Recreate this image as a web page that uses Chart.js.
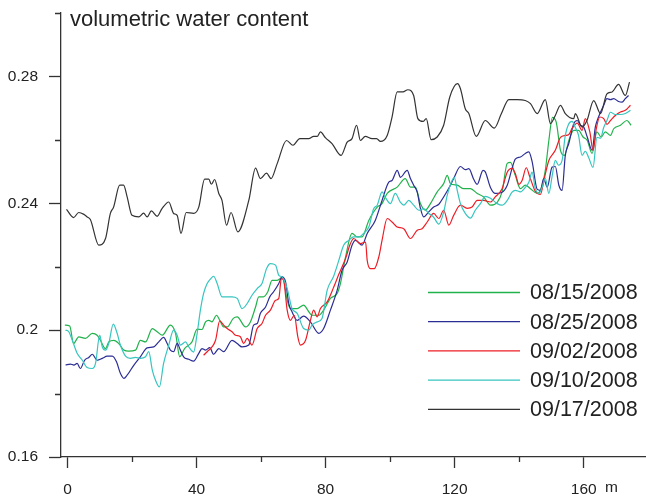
<!DOCTYPE html>
<html>
<head>
<meta charset="utf-8">
<script src="https://cdn.jsdelivr.net/npm/chart.js@4.4.1/dist/chart.umd.min.js"></script>
<style>
  html, body { margin: 0; padding: 0; background: #fff; }
  canvas { display: block; }
</style>
</head>
<body>
<canvas id="chart" width="646" height="496"></canvas>
<script>
// distance along the transect (m) and volumetric water content, one pair of arrays per date
const dist0815 = [-0.8,0.7,1.9,3.5,5.6,7.7,9.2,10.2,11.8,12.8,14.4,15.9,17.5,19.0,21.1,22.6,24.2,26.3,27.8,29.4,31.9,33.5,34.8,36.3,38.6,40.2,41.7,42.8,43.8,44.8,46.2,47.2,48.4,49.5,51.4,52.6,55.2,56.7,58.3,59.3,60.7,62.1,63.4,65.0,66.7,68.1,69.1,71.2,73.2,74.8,75.8,77.9,79.4,81.5,83.6,84.6,86.2,88.2,89.8,91.3,93.4,96.0,97.5,99.1,102.2,104.7,106.3,107.8,109.4,110.9,112.5,114.6,116.6,117.7,118.7,120.8,122.8,124.9,127.0,129.0,131.1,133.2,134.7,136.3,137.3,138.8,140.4,141.9,143.5,145.6,146.6,148.1,149.2,150.3,151.5,152.8,154.0,155.4,156.9,158.4,159.8,161.1,162.6,164.1,165.4,166.7,168.3,169.3,171.4,173.4,174.7]
const vwc0815 = [0.2016,0.2013,0.1958,0.1979,0.1974,0.1990,0.1984,0.1968,0.1942,0.1963,0.1968,0.1958,0.1937,0.1934,0.1937,0.1968,0.1963,0.2005,0.1995,0.1984,0.2016,0.1990,0.1916,0.1942,0.1963,0.2003,0.2002,0.2026,0.2031,0.2026,0.2047,0.2031,0.2010,0.2010,0.2037,0.2042,0.2010,0.2026,0.2073,0.2105,0.2105,0.2121,0.2157,0.2157,0.2167,0.2094,0.2068,0.2068,0.2079,0.2058,0.2047,0.2047,0.2063,0.2100,0.2116,0.2147,0.2231,0.2305,0.2294,0.2294,0.2346,0.2388,0.2399,0.2431,0.2451,0.2478,0.2451,0.2451,0.2399,0.2378,0.2399,0.2436,0.2462,0.2488,0.2462,0.2457,0.2446,0.2446,0.2431,0.2420,0.2394,0.2403,0.2436,0.2526,0.2529,0.2488,0.2446,0.2457,0.2446,0.2431,0.2441,0.2504,0.2598,0.2671,0.2655,0.2567,0.2551,0.2598,0.2630,0.2630,0.2609,0.2598,0.2557,0.2625,0.2609,0.2625,0.2614,0.2635,0.2646,0.2661,0.2646]

const dist0825 = [-0.6,0.9,2.0,3.0,4.0,5.3,6.6,7.7,9.2,10.8,12.3,13.9,15.2,16.4,17.5,18.5,20.6,22.6,24.7,26.7,28.3,29.8,30.9,31.9,32.9,34.0,35.0,36.0,37.6,39.1,40.7,41.7,42.8,44.1,45.3,46.9,48.4,51.0,52.6,54.1,56.2,57.7,58.8,59.8,61.4,62.7,63.9,65.5,66.5,67.6,68.6,69.6,71.2,73.2,75.3,77.9,79.4,81.5,83.6,85.1,86.7,88.2,89.3,91.3,92.9,95.4,97.5,99.6,100.6,102.2,103.2,105.3,106.3,107.3,108.4,109.4,110.4,111.9,113.5,115.1,116.6,118.7,119.7,121.8,123.3,124.4,125.9,127.0,128.8,129.5,131.1,132.6,134.7,136.3,137.8,138.8,140.4,141.9,143.0,144.0,145.6,146.6,147.6,148.7,150.2,151.2,152.3,153.3,154.3,155.4,156.9,158.0,159.0,160.0,161.1,162.6,163.6,164.6,166.2,167.2,168.3,169.3,170.8,171.9,172.9,173.9]
const vwc0825 = [0.1890,0.1893,0.1890,0.1895,0.1879,0.1905,0.1914,0.1924,0.1905,0.1911,0.1918,0.1918,0.1900,0.1864,0.1848,0.1858,0.1890,0.1916,0.1944,0.1947,0.1963,0.1977,0.1958,0.1937,0.1932,0.1958,0.1937,0.1916,0.1908,0.1902,0.1927,0.1942,0.1937,0.1945,0.1924,0.1942,0.1932,0.1968,0.1958,0.1947,0.1953,0.2016,0.2021,0.2053,0.2073,0.2105,0.2121,0.2147,0.2168,0.2152,0.2084,0.2058,0.2031,0.2044,0.2026,0.1990,0.2005,0.2063,0.2126,0.2189,0.2215,0.2268,0.2283,0.2268,0.2305,0.2346,0.2409,0.2467,0.2472,0.2504,0.2482,0.2504,0.2478,0.2457,0.2435,0.2384,0.2357,0.2372,0.2388,0.2397,0.2420,0.2457,0.2478,0.2516,0.2506,0.2509,0.2476,0.2460,0.2504,0.2499,0.2450,0.2431,0.2435,0.2457,0.2510,0.2539,0.2546,0.2557,0.2562,0.2532,0.2444,0.2441,0.2478,0.2451,0.2514,0.2516,0.2457,0.2441,0.2551,0.2589,0.2651,0.2661,0.2646,0.2640,0.2609,0.2567,0.2640,0.2672,0.2709,0.2730,0.2727,0.2730,0.2721,0.2719,0.2730,0.2740]

const dist0902 = [42.2,43.3,44.8,45.9,47.2,48.4,49.5,51.0,52.1,53.6,54.6,55.7,57.2,58.8,60.3,61.4,62.9,64.5,65.5,66.3,67.0,68.1,69.1,70.3,71.4,72.2,73.8,75.3,76.3,77.4,78.4,80.5,82.5,84.1,86.2,87.7,88.7,90.8,92.4,92.9,93.9,95.1,96.5,97.5,99.1,100.6,102.2,104.2,106.3,108.4,109.9,111.5,113.5,115.1,116.6,118.2,119.7,121.8,123.9,125.4,127.0,129.0,131.1,132.6,134.7,136.3,137.8,138.8,139.9,140.9,142.2,143.3,145.0,146.6,147.8,149.2,151.2,152.8,154.3,155.4,156.4,158.0,159.5,160.5,161.9,162.9,163.9,165.0,166.2,167.2,168.3,169.8,171.4,172.9,174.5]
const vwc0902 = [0.1921,0.1932,0.1947,0.1968,0.2029,0.2016,0.2005,0.1995,0.1984,0.1979,0.1958,0.1974,0.1953,0.2005,0.2021,0.2047,0.2063,0.2094,0.2100,0.2163,0.2157,0.2063,0.2031,0.2047,0.1979,0.1953,0.1968,0.2031,0.2063,0.2042,0.2068,0.2089,0.2135,0.2176,0.2226,0.2273,0.2289,0.2273,0.2278,0.2220,0.2194,0.2194,0.2231,0.2283,0.2352,0.2341,0.2325,0.2320,0.2289,0.2315,0.2320,0.2341,0.2368,0.2352,0.2378,0.2331,0.2362,0.2394,0.2384,0.2388,0.2409,0.2409,0.2404,0.2420,0.2446,0.2498,0.2510,0.2494,0.2460,0.2472,0.2512,0.2483,0.2438,0.2428,0.2479,0.2535,0.2567,0.2608,0.2614,0.2617,0.2636,0.2653,0.2630,0.2667,0.2625,0.2567,0.2635,0.2672,0.2667,0.2649,0.2661,0.2677,0.2688,0.2693,0.2709]

const dist0910 = [-0.6,0.4,1.5,3.0,4.6,6.1,7.7,8.7,10.0,10.8,11.8,12.8,14.2,15.4,16.4,18.0,19.5,21.1,22.6,24.2,25.2,26.3,27.3,28.5,29.8,31.4,32.9,34.0,35.0,36.6,37.6,39.1,40.2,41.2,42.2,43.3,44.3,45.3,46.4,47.9,49.5,51.0,52.6,54.1,55.7,57.2,58.8,60.3,61.7,62.9,64.5,65.5,66.5,68.1,69.6,71.2,73.2,74.8,75.8,77.4,78.9,80.5,82.5,84.1,85.6,87.2,88.7,90.3,91.8,93.4,94.9,96.0,97.5,98.5,100.1,101.6,103.2,104.2,105.8,107.3,108.9,110.4,112.0,113.5,115.1,116.6,117.7,119.2,119.9,120.8,121.8,123.3,124.9,126.4,128.0,129.5,131.1,133.2,134.7,136.3,137.8,138.8,140.4,141.9,143.0,144.0,145.0,146.1,147.1,148.1,149.2,150.2,151.2,152.2,153.3,154.3,155.3,156.4,157.4,158.4,159.5,160.5,161.5,162.9,164.1,165.2,166.2,167.2,168.3,169.8,171.4,172.9,174.5]
const vwc0910 = [0.2000,0.1995,0.1968,0.1927,0.1905,0.1882,0.1879,0.1895,0.1984,0.1947,0.1937,0.1958,0.2019,0.1990,0.1953,0.1918,0.1911,0.1914,0.1911,0.1916,0.1932,0.1874,0.1842,0.1821,0.1895,0.1953,0.2000,0.1984,0.1953,0.1963,0.1947,0.1931,0.1990,0.2063,0.2116,0.2147,0.2161,0.2170,0.2147,0.2105,0.2105,0.2105,0.2100,0.2068,0.2084,0.2110,0.2131,0.2147,0.2194,0.2210,0.2205,0.2173,0.2168,0.2131,0.2068,0.2053,0.2005,0.2000,0.2016,0.2026,0.2037,0.2126,0.2170,0.2220,0.2268,0.2283,0.2294,0.2294,0.2305,0.2325,0.2383,0.2394,0.2436,0.2419,0.2399,0.2431,0.2403,0.2394,0.2409,0.2394,0.2378,0.2383,0.2368,0.2356,0.2334,0.2372,0.2425,0.2472,0.2482,0.2441,0.2399,0.2368,0.2353,0.2378,0.2399,0.2422,0.2416,0.2399,0.2394,0.2409,0.2435,0.2441,0.2436,0.2450,0.2466,0.2498,0.2447,0.2431,0.2450,0.2479,0.2431,0.2485,0.2535,0.2520,0.2535,0.2614,0.2649,0.2658,0.2639,0.2614,0.2551,0.2564,0.2545,0.2513,0.2608,0.2605,0.2639,0.2661,0.2687,0.2680,0.2680,0.2683,0.2693]

const dist0917 = [-0.3,1.9,3.5,5.1,6.1,7.1,9.7,11.8,13.3,14.3,16.2,17.4,18.5,20.0,22.1,23.6,24.7,26.0,27.8,29.3,31.4,32.9,34.0,35.2,36.8,39.1,40.7,42.5,43.8,44.6,45.6,46.9,47.9,49.3,50.7,52.8,56.2,58.3,59.8,61.7,63.1,65.0,67.9,69.9,72.0,74.8,76.3,77.4,78.4,80.0,82.0,84.8,86.7,88.2,89.6,90.8,92.3,94.4,95.8,97.0,99.1,100.6,102.2,104.0,105.5,107.3,108.6,110.2,111.2,112.7,114.6,116.6,118.5,120.9,121.8,123.3,124.4,126.7,129.5,132.3,134.5,136.8,139.4,141.9,143.5,145.6,148.1,149.7,151.2,152.8,154.3,156.9,157.4,159.5,161.0,163.1,165.2,167.2,168.8,170.8,172.9,174.2]
const vwc0917 = [0.2381,0.2355,0.2371,0.2365,0.2357,0.2349,0.2268,0.2289,0.2368,0.2388,0.2457,0.2457,0.2420,0.2362,0.2357,0.2369,0.2357,0.2376,0.2359,0.2383,0.2404,0.2368,0.2362,0.2305,0.2371,0.2368,0.2388,0.2476,0.2476,0.2460,0.2475,0.2431,0.2409,0.2331,0.2371,0.2310,0.2409,0.2511,0.2478,0.2495,0.2478,0.2525,0.2598,0.2583,0.2604,0.2604,0.2611,0.2611,0.2625,0.2606,0.2588,0.2551,0.2593,0.2604,0.2646,0.2598,0.2611,0.2604,0.2604,0.2595,0.2614,0.2672,0.2751,0.2751,0.2758,0.2740,0.2667,0.2658,0.2667,0.2601,0.2609,0.2646,0.2735,0.2777,0.2761,0.2698,0.2683,0.2611,0.2661,0.2637,0.2683,0.2727,0.2727,0.2724,0.2714,0.2683,0.2727,0.2651,0.2677,0.2709,0.2683,0.2667,0.2683,0.2640,0.2661,0.2724,0.2683,0.2745,0.2751,0.2775,0.2740,0.2782]

const seriesLabels = ["08/15/2008", "08/25/2008", "09/02/2008", "09/10/2008", "09/17/2008"]
const seriesColors = ["#22b24c", "#2b2d94", "#ee1d25", "#36c5bf", "#333333"]

const xTicks = [0, 40, 80, 120, 160]
const xMinorTicks = [20, 60, 100, 140]
const yTicks = [0.16, 0.2, 0.24, 0.28]
const yMinorTicks = [0.18, 0.22, 0.26, 0.3]
const yTitle = "volumetric water content"
const xUnit = "m"

const FONT = "'Liberation Sans', Arial, Helvetica, sans-serif"
const INK = "#222222"

function pairs(xs, ys) {
  const n = Math.min(xs.length, ys.length)
  const out = []
  for (let i = 0; i < n; i++) out.push({ x: xs[i], y: ys[i] })
  return out
}

const seriesData = [
  pairs(dist0815, vwc0815),
  pairs(dist0825, vwc0825),
  pairs(dist0902, vwc0902),
  pairs(dist0910, vwc0910),
  pairs(dist0917, vwc0917),
]

// minor ticks, title, unit and the in-plot legend
const extras = {
  id: "extras",
  afterDraw(chart) {
    const { ctx, chartArea, scales } = chart
    ctx.save()
    ctx.strokeStyle = "#333"
    ctx.lineWidth = 1.3
    ctx.beginPath()
    xMinorTicks.forEach((v) => {
      const px = Math.round(scales.x.getPixelForValue(v)) + 0.5
      ctx.moveTo(px, chartArea.bottom)
      ctx.lineTo(px, chartArea.bottom + 5)
    })
    yMinorTicks.forEach((v) => {
      const py = Math.round(scales.y.getPixelForValue(v)) + 0.5
      ctx.moveTo(chartArea.left, py)
      ctx.lineTo(chartArea.left - 6, py)
    })
    ctx.stroke()

    ctx.fillStyle = INK
    ctx.font = "22px " + FONT
    ctx.textAlign = "left"
    ctx.textBaseline = "alphabetic"
    ctx.fillText(yTitle, 70, 26)

    ctx.font = "15.5px " + FONT
    ctx.textBaseline = "middle"
    ctx.fillText(xUnit, 605, 488)

    // legend
    ctx.font = "21.5px " + FONT
    chart.data.datasets.forEach((ds, i) => {
      const ly = 292.5 + i * 29.2
      ctx.strokeStyle = ds.borderColor
      ctx.lineWidth = 1.3
      ctx.beginPath()
      ctx.moveTo(428, ly)
      ctx.lineTo(520, ly)
      ctx.stroke()
      ctx.fillStyle = INK
      ctx.fillText(ds.label, 530, ly + 1)
    })
    ctx.restore()
  },
}

new Chart(document.getElementById("chart"), {
  type: "line",
  data: {
    datasets: seriesData.map((d, i) => ({
      label: seriesLabels[i],
      data: d,
      borderColor: seriesColors[i],
      borderWidth: 1.2,
      pointRadius: 0,
      fill: false,
      cubicInterpolationMode: "monotone",
      order: 4 - i,
    })),
  },
  options: {
    responsive: false,
    animation: false,
    devicePixelRatio: 1,
    layout: { padding: { left: 0, right: 1, top: 13, bottom: 0 } },
    plugins: {
      legend: { display: false },
      tooltip: { enabled: false },
    },
    scales: {
      x: {
        type: "linear",
        min: -2,
        max: 179,
        afterBuildTicks: (scale) => {
          scale.ticks = xTicks.map((v) => ({ value: v }))
        },
        afterFit: (scale) => {
          scale.height = 39
          scale.paddingLeft = 0
          scale.paddingRight = 0
        },
        border: { display: true, color: "#333", width: 1.3 },
        grid: { drawOnChartArea: false, drawTicks: true, tickLength: 11, tickColor: "#333", tickWidth: 1.3 },
        ticks: {
          autoSkip: false,
          maxRotation: 0,
          padding: 12,
          color: INK,
          font: { family: FONT, size: 15.5 },
          callback: (v) => String(v),
        },
      },
      y: {
        type: "linear",
        min: 0.16,
        max: 0.3,
        afterBuildTicks: (scale) => {
          scale.ticks = yTicks.map((v) => ({ value: v }))
        },
        afterFit: (scale) => {
          scale.width = 61
          scale.paddingTop = 0
          scale.paddingBottom = 0
        },
        border: { display: true, color: "#333", width: 1.3 },
        grid: { drawOnChartArea: false, drawTicks: true, tickLength: 12, tickColor: "#333", tickWidth: 1.3 },
        ticks: {
          autoSkip: false,
          padding: 11,
          color: INK,
          font: { family: FONT, size: 15.5 },
          callback: (v) => String(+v.toFixed(2)),
        },
      },
    },
  },
  plugins: [extras],
})
</script>
</body>
</html>
